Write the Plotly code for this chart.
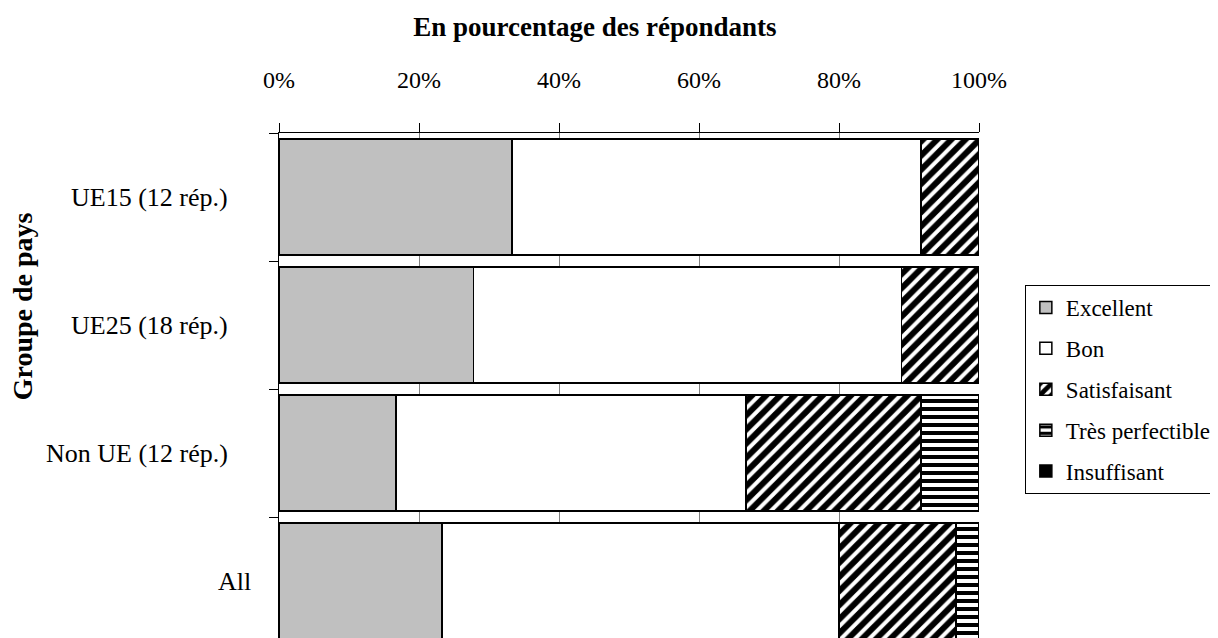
import plotly.graph_objects as go

categories = ["UE15 (12 rép.)", "UE25 (18 rép.)", "Non UE (12 rép.)", "All"]
excellent = [33.3, 27.8, 16.7, 23.3]
bon = [58.4, 61.1, 50.0, 56.7]
satisfaisant = [8.3, 11.1, 25.0, 16.7]
tres_perfectible = [0.0, 0.0, 8.3, 3.3]
insuffisant = [0.0, 0.0, 0.0, 0.0]
series_names = ["Excellent", "Bon", "Satisfaisant", "Très perfectible", "Insuffisant"]
tick_vals = [0, 20, 40, 60, 80, 100]
tick_text = ["0%", "20%", "40%", "60%", "80%", "100%"]

FONT = "Liberation Serif"

styles = [
    dict(color="#C0C0C0"),
    dict(color="#FFFFFF"),
    dict(color="#FFFFFF", pattern=dict(shape="/", fgcolor="#000000", fgopacity=1, bgcolor="#FFFFFF", size=10, solidity=0.6)),
    dict(color="#FFFFFF", pattern=dict(shape="-", fgcolor="#000000", fgopacity=1, bgcolor="#FFFFFF", size=8, solidity=0.5)),
    dict(color="#000000"),
]

fig = go.Figure()
for name, vals, st in zip(series_names, [excellent, bon, satisfaisant, tres_perfectible, insuffisant], styles):
    fig.add_trace(go.Bar(
        x=vals, y=categories, orientation="h", name=name, legendgroup=name,
        marker=dict(line=dict(color="#000000", width=1.5), **st),
    ))

label_x = [-0.07, -0.07, -0.07, -0.037]
for cat, lx in zip(categories, label_x):
    fig.add_annotation(text=cat, x=lx, xref="paper", y=cat, yref="y",
                       xanchor="right", yanchor="middle", showarrow=False,
                       font=dict(family=FONT, size=26, color="#000000"))

fig.add_annotation(text="<b>Groupe de pays</b>", x=-0.367, xref="paper", y=0.657, yref="paper",
                   xanchor="center", yanchor="middle", textangle=-90, showarrow=False,
                   font=dict(family=FONT, size=28, color="#000000"))

fig.update_layout(
    width=1210, height=630,
    barmode="stack", bargap=0.094,
    paper_bgcolor="#FFFFFF", plot_bgcolor="#FFFFFF",
    margin=dict(l=271, r=239, t=125, b=0, autoexpand=False),
    font=dict(family=FONT, size=24, color="#000000"),
    title=dict(text="En pourcentage des répondants", xref="container", x=0.485, xanchor="center",
               yref="container", y=0.97, yanchor="middle",
               font=dict(family=FONT, size=27, color="#000000", weight="bold")),
    legend=dict(x=1.0655, xanchor="left", y=0.699, yanchor="top",
                bordercolor="#000000", borderwidth=1, bgcolor="#FFFFFF",
                font=dict(family=FONT, size=23, color="#000000"),
                tracegroupgap=8, traceorder="grouped"),
    showlegend=True,
)
fig.update_xaxes(side="top", range=[0, 100], tickvals=tick_vals, ticktext=tick_text,
                 ticks="outside", ticklen=9, tickcolor="#000000", tickwidth=1,
                 showline=True, linecolor="#000000", linewidth=1,
                 showgrid=True, gridcolor="#808080", gridwidth=1, zeroline=False,
                 ticklabelstandoff=25, tickfont=dict(family=FONT, size=24))
fig.update_yaxes(type="category", categoryorder="array", categoryarray=categories,
                 range=[3.445, -0.5], showticklabels=False,
                 ticks="outside", ticklen=9, tickcolor="#000000", tickson="boundaries",
                 showline=True, linecolor="#000000", linewidth=1, showgrid=False)

fig.write_html("out.html")
